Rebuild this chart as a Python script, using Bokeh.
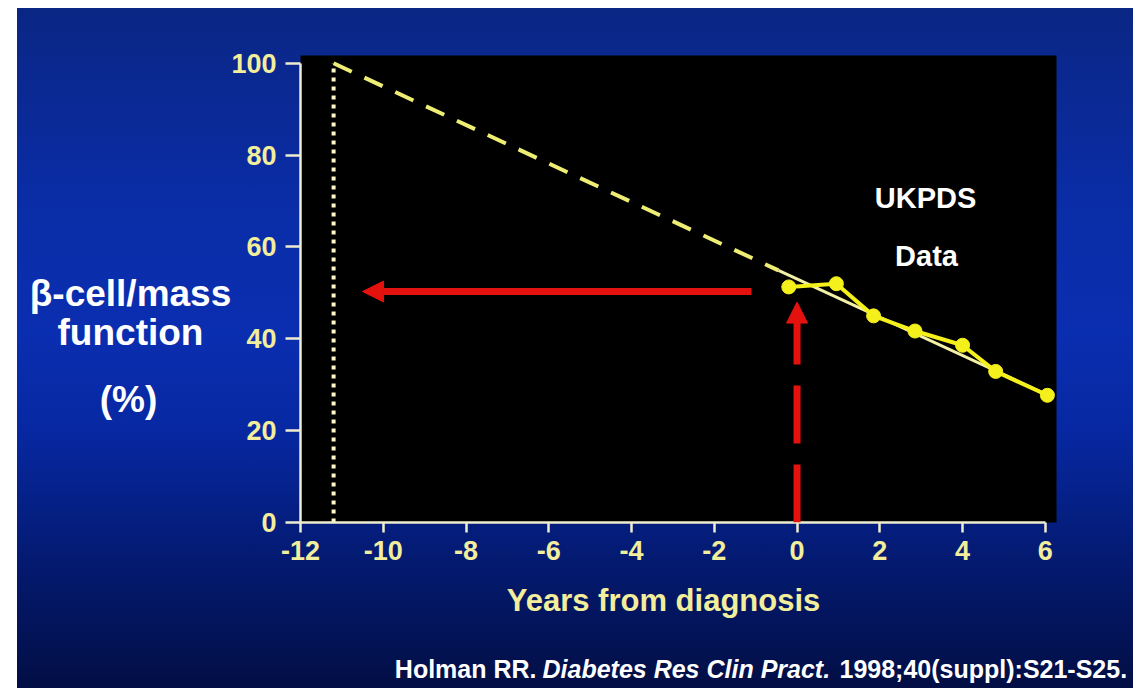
from bokeh.plotting import figure
from bokeh.models import Range1d, FixedTicker, Arrow, NormalHead
from bokeh.core.properties import value
from bokeh.embed import file_html
from bokeh.resources import INLINE

# UKPDS beta-cell function measurements (years relative to diagnosis, % of normal)
years = [-0.2, 0.95, 1.85, 2.85, 4.0, 4.8, 6.05]
beta_function = [51.3, 52.0, 45.0, 41.7, 38.6, 32.9, 27.7]

# straight-line trend: fitted over the UKPDS data and extrapolated back to onset
trend_years = [-11.2, -0.45, 6.1]
trend_values = [100, 54.9, 27.6]

onset_year = -11.2
arrow_level = 50.3
arrow_from_year = -1.1
arrow_to_year = -10.5
diagnosis_year = 0
diagnosis_arrow_top = 48

x_ticks = [-12, -10, -8, -6, -4, -2, 0, 2, 4, 6]
y_ticks = [0, 20, 40, 60, 80, 100]

AXIS_COLOR = "#efedcf"
TICK_TEXT = "#f2ee9c"
YELLOW = "#f4f01c"
RED = "#e4120f"
FONT = "Liberation Sans"

# canvas layout (pixels)
W, H = 1133, 688
LEFT, RIGHT, TOP, BOTTOM = 300, 77, 55, 166
X0, X1 = -12, 6.27
Y0, Y1 = 0, 101.7

p = figure(width=W, height=H, output_backend="svg", toolbar_location=None,
           x_range=Range1d(X0, X1), y_range=Range1d(Y0, Y1),
           min_border_left=LEFT, min_border_right=RIGHT,
           min_border_top=TOP, min_border_bottom=BOTTOM)
p.background_fill_color = "black"
p.border_fill_color = None
p.outline_line_color = None
p.grid.visible = False
p.styles = {
    "background": "linear-gradient(180deg, #0a2684 0%, #0a2da8 30%, #0a2eb0 48%, "
                  "#0728a2 62%, #041b74 80%, #020e44 100%) 17px 8px / 1116px 680px no-repeat, #ffffff"
}

xa = p.xaxis[0]
xa.bounds = (-12, 6)
xa.ticker = FixedTicker(ticks=x_ticks)
xa.major_label_overrides = {t: str(t) for t in x_ticks}

ya = p.yaxis[0]
ya.bounds = (0, 100)
ya.ticker = FixedTicker(ticks=y_ticks)

for ax in (xa, ya):
    ax.axis_line_color = AXIS_COLOR
    ax.axis_line_width = 2.5
    ax.major_tick_line_color = AXIS_COLOR
    ax.major_tick_line_width = 2.5
    ax.major_tick_in = 0
    ax.minor_tick_line_color = None
    ax.major_label_text_font = FONT
    ax.major_label_text_font_style = "bold"
    ax.major_label_text_font_size = "27px"
    ax.major_label_text_color = TICK_TEXT
xa.major_tick_out = 10
xa.major_label_standoff = 8
ya.major_tick_out = 15
ya.major_label_standoff = 9

# dotted marker of disease onset
p.line([onset_year, onset_year], [0, trend_values[0]], line_color="#fdf8c6",
       line_width=4, line_dash="4 5")

# extrapolated (dashed) and fitted (solid) trend
p.line(trend_years[:2], trend_values[:2], line_color="#efee74", line_width=4,
       line_dash="20 14")
p.line(trend_years[1:], trend_values[1:], line_color="#f3f1a6", line_width=3)

# red arrows
p.add_layout(Arrow(end=NormalHead(size=21, fill_color=RED, line_color=RED, line_width=1),
                   x_start=arrow_from_year, y_start=arrow_level,
                   x_end=arrow_to_year, y_end=arrow_level,
                   line_color=RED, line_width=7))
p.add_layout(Arrow(end=NormalHead(size=21, fill_color=RED, line_color=RED, line_width=1),
                   x_start=diagnosis_year, y_start=0,
                   x_end=diagnosis_year, y_end=diagnosis_arrow_top,
                   line_color=RED, line_width=7, line_dash="58 21"))

# UKPDS data
p.line(years, beta_function, line_color=YELLOW, line_width=4)
p.scatter(years, beta_function, size=14, fill_color=YELLOW, line_color=YELLOW)

x_scale = (W - LEFT - RIGHT) / (X1 - X0)
y_scale = (H - TOP - BOTTOM) / (Y1 - Y0)


def canvas_text(text, x, y, size, align="center", color="#ffffff", style="bold"):
    # x, y in canvas pixels (y is the text baseline from the top), mapped to data space
    dx = X0 + (x - LEFT) / x_scale
    dy = Y0 + ((H - BOTTOM) - y) / y_scale
    p.text(x=[dx], y=[dy], text=[text], text_font=value(FONT), text_font_style=style,
           text_font_size=f"{size}px", text_color=color, text_align=align,
           text_baseline="alphabetic", level="overlay")


# axis titles
canvas_text("Years from diagnosis", 663, 600, 31, color=TICK_TEXT)
canvas_text("\u03b2-cell/mass", 130, 293, 37)
canvas_text("function", 130, 332, 37)
canvas_text("(%)", 128, 399, 37)

canvas_text("UKPDS", 925, 197, 29)
canvas_text("Data", 926, 255, 29)

# reference line
canvas_text("Holman RR.", 536, 668, 25, align="right")
canvas_text("Diabetes Res Clin Pract.", 542, 668, 25, align="left", style="bold italic")
canvas_text("1998;40(suppl):S21-S25.", 839, 668, 25, align="left")

open("out.html", "w").write(file_html(p, INLINE))
